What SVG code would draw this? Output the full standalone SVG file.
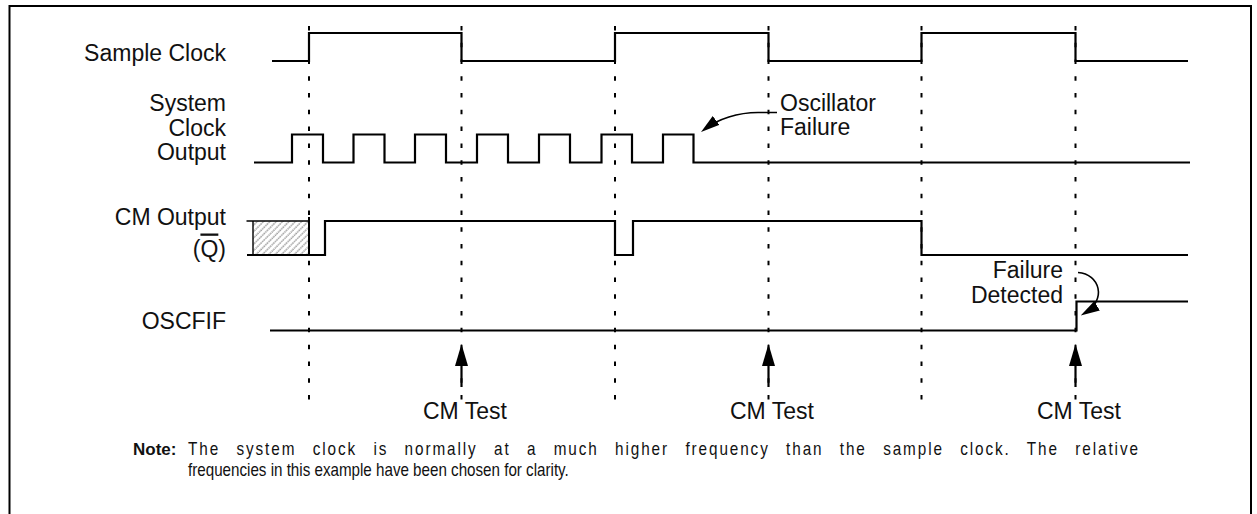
<svg xmlns="http://www.w3.org/2000/svg" width="1257" height="514" viewBox="0 0 1257 514">
<style>
  text { font-family: "Liberation Sans", Arial, sans-serif; fill: #111; }
  .lbl { font-size: 23px; }
  .end { text-anchor: end; }
  .wave { fill: none; stroke: #000; stroke-width: 2.2; stroke-linejoin: miter; }
  .guide { fill: none; stroke: #000; stroke-width: 2; stroke-dasharray: 4.5 12.27; }
  .arrow { fill: none; stroke: #000; stroke-width: 2.2; }
  .curve { fill: none; stroke: #000; stroke-width: 1.6; }
  .note { font-size: 18px; }
</style>
<defs>
  <marker id="head" markerUnits="userSpaceOnUse" viewBox="0 0 22 13" refX="16" refY="6.5" markerWidth="22" markerHeight="13" orient="auto">
    <path d="M0,0 L22,6.5 L0,13 z" fill="#000"/>
  </marker>
  <marker id="head-s" markerUnits="userSpaceOnUse" viewBox="0 0 19 11" refX="14" refY="5.5" markerWidth="19" markerHeight="11" orient="auto">
    <path d="M0,0 L19,5.5 L0,11 z" fill="#000"/>
  </marker>
  <pattern id="hatch" patternUnits="userSpaceOnUse" width="4.5" height="4.5" patternTransform="rotate(45)">
    <line x1="1" y1="0" x2="1" y2="4.5" stroke="#6e6e6e" stroke-width="1" stroke-dasharray="1.6 0.7"/>
  </pattern>
</defs>

<rect id="frame" x="9.5" y="6" width="1241.5" height="520" fill="none" stroke="#000" stroke-width="2"/>

<g id="connectors">
  <g id="guides">
    <line class="guide" x1="309" y1="26" x2="309" y2="399.5"/>
    <line class="guide" x1="461.5" y1="26" x2="461.5" y2="399.5"/>
    <line class="guide" x1="615" y1="26" x2="615" y2="399.5"/>
    <line class="guide" x1="768.5" y1="26" x2="768.5" y2="399.5"/>
    <line class="guide" x1="921.5" y1="26" x2="921.5" y2="399.5"/>
    <line class="guide" x1="1075.5" y1="26" x2="1075.5" y2="399.5"/>
  </g>
  <line class="arrow" x1="461.5" y1="387" x2="461.5" y2="350" marker-end="url(#head)"/>
  <line class="arrow" x1="768.5" y1="387" x2="768.5" y2="350" marker-end="url(#head)"/>
  <line class="arrow" x1="1075.5" y1="387" x2="1075.5" y2="350" marker-end="url(#head)"/>
  <path class="curve" d="M777 112.5 L758 112.5 C738 112.5 718 119 705 129" marker-end="url(#head-s)"/>
  <path class="curve" d="M1078 272.5 C1100 274 1107 300 1085 313" marker-end="url(#head-s)"/>
</g>

<g id="sample-clock">
  <text class="lbl end" x="226" y="61">Sample Clock</text>
  <path class="wave" d="M272 61 H309 V33 H461.5 V61 H615 V33 H768.5 V61 H921.5 V33 H1075.5 V61 H1188"/>
</g>

<g id="system-clock">
  <text class="lbl end" x="226" y="111">System</text>
  <text class="lbl end" x="226" y="135.5">Clock</text>
  <text class="lbl end" x="226" y="160">Output</text>
  <path class="wave" d="M254 162.5 H292 V134.5 H323 V162.5 H353.5 V134.5 H384.5 V162.5 H415 V134.5 H446 V162.5 H477 V134.5 H508 V162.5 H539 V134.5 H570 V162.5 H601.5 V134.5 H632 V162.5 H663 V134.5 H693.5 V162.5 H1190"/>
</g>

<g id="oscillator-failure">
  <text class="lbl" x="780" y="111">Oscillator</text>
  <text class="lbl" x="780" y="134.5">Failure</text>
</g>

<g id="cm-output">
  <text class="lbl end" x="226" y="225">CM Output</text>
  <text class="lbl end" x="226" y="256.5">(<tspan text-decoration="overline">Q</tspan>)</text>
  <rect x="253" y="221" width="56" height="34" fill="url(#hatch)" stroke="none"/>
  <path fill="none" stroke="#000" stroke-width="1.4" d="M246.5 221 H309 M253 221 V255"/>
  <line x1="309" y1="217" x2="309" y2="255" stroke="#000" stroke-width="2"/>
  <path class="wave" d="M247 255 H325 V221 H615 V255 H633 V221 H921.5 V255 H1188"/>
</g>

<g id="oscfif">
  <text class="lbl end" x="226" y="329">OSCFIF</text>
  <path class="wave" d="M270 330.5 H1076.5 V301.5 H1188"/>
</g>

<g id="failure-detected">
  <text class="lbl end" x="1063" y="278">Failure</text>
  <text class="lbl end" x="1063" y="303">Detected</text>
</g>

<g id="cm-tests">
  <text class="lbl" x="423" y="419">CM Test</text>
  <text class="lbl" x="730" y="419">CM Test</text>
  <text class="lbl" x="1037" y="419">CM Test</text>
</g>

<g id="note">
  <text x="133" y="455" font-size="17" font-weight="bold">Note:</text>
  <g transform="translate(188,0) scale(0.85,1)">
    <text class="note" x="0" y="455" word-spacing="12" textLength="1117.6" lengthAdjust="spacing">The system clock is normally at a much higher frequency than the sample clock. The relative</text>
    <text class="note" x="0" y="476" textLength="448" lengthAdjust="spacingAndGlyphs">frequencies in this example have been chosen for clarity.</text>
  </g>
</g>
</svg>
